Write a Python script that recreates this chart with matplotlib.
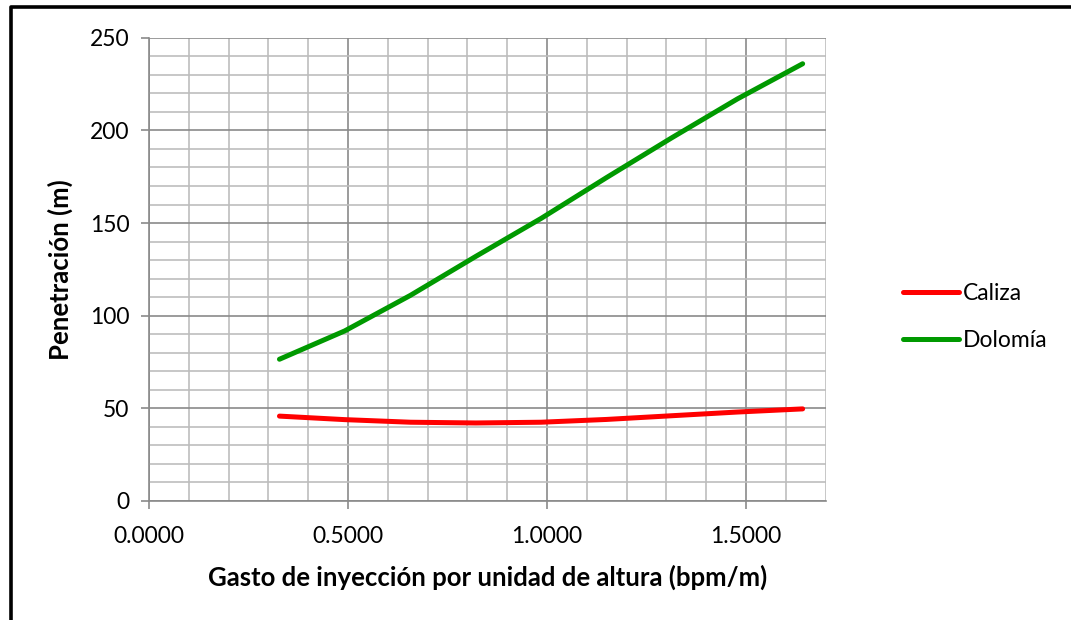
import matplotlib
matplotlib.use("Agg")
import matplotlib.pyplot as plt
from matplotlib.lines import Line2D
from matplotlib.ticker import MultipleLocator, FormatStrFormatter

# data
gasto = [0.328, 0.492, 0.657, 0.821, 0.985, 1.149, 1.313, 1.478, 1.642]
caliza = [45.8, 43.9, 42.5, 42.1, 42.5, 44.0, 46.0, 48.0, 49.7]
dolomia = [76.5, 91.8, 111.0, 132.0, 152.5, 174.5, 196.0, 217.0, 236.0]

plt.rcParams['font.family'] = ['Lato', 'DejaVu Sans']

fig = plt.figure(figsize=(10.71, 6.2), dpi=100)
ax = fig.add_axes([0.139, 0.192, 0.632, 0.747])

ax.plot(gasto, caliza, color='#ff0000', lw=3.6, solid_capstyle='round', label='Caliza', zorder=3)
ax.plot(gasto, dolomia, color='#009900', lw=3.6, solid_capstyle='round', label='Dolomía', zorder=3)

ax.set_xlim(0, 1.7)
ax.set_ylim(0, 250)
ax.xaxis.set_major_locator(MultipleLocator(0.5))
ax.xaxis.set_minor_locator(MultipleLocator(0.1))
ax.yaxis.set_major_locator(MultipleLocator(50))
ax.yaxis.set_minor_locator(MultipleLocator(10))
ax.xaxis.set_major_formatter(FormatStrFormatter('%.4f'))

ax.grid(which='major', color='#8a8a8a', lw=1.2)
ax.grid(which='minor', color='#bdbdbd', lw=1.2)
ax.set_axisbelow(True)

ax.tick_params(which='major', direction='out', length=6, width=1.2, color='#8a8a8a',
               labelsize=16.5, pad=8)
ax.tick_params(axis='x', which='major', pad=12)
ax.tick_params(which='minor', length=0)
for side in ['top', 'right']:
    ax.spines[side].set_visible(False)
for side in ['left', 'bottom']:
    ax.spines[side].set_color('#8a8a8a')
    ax.spines[side].set_linewidth(1.2)

ax.set_xlabel('Gasto de inyección por unidad de altura (bpm/m)', fontsize=18.5,
              fontweight='bold', labelpad=13)
ax.set_ylabel('Penetración (m)', fontsize=18.5, fontweight='bold', labelpad=12)

ax.legend(loc='center left', bbox_to_anchor=(882 / 1071, 1 - 317 / 620),
          bbox_transform=fig.transFigure, frameon=False, fontsize=16.5,
          handlelength=2.45, handletextpad=0.2, labelspacing=1.1)

# outer frame (left and top edges)
fig.add_artist(Line2D([0.0105, 0.0105, 1.0], [0.0, 0.988, 0.988], color='black', lw=2.6,
                      transform=fig.transFigure))

fig.savefig('out.png', dpi=100)
